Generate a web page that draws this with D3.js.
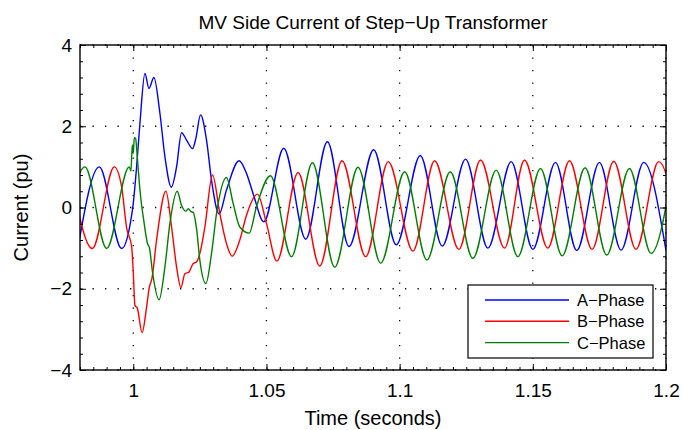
<!DOCTYPE html>
<html>
<head>
<meta charset="utf-8">
<script src="https://cdn.jsdelivr.net/npm/d3@7"></script>
<style>
  body { margin: 0; background: #fff; }
  text { font-family: "Liberation Sans", Arial, Helvetica, sans-serif; }
</style>
</head>
<body>
<div id="chart"></div>
<script>
// tick values and labels
var xTicks = [1, 1.05, 1.1, 1.15, 1.2];
var xTickLabels = ["1", "1.05", "1.1", "1.15", "1.2"];
var yTicks = [-4, -2, 0, 2, 4];
var yTickLabels = ["\u22124", "\u22122", "0", "2", "4"];
var phaseNames = ["A\u2212Phase", "B\u2212Phase", "C\u2212Phase"];

// [time (s), current (pu)]: peaks, troughs and kinks
var phaseA = [
  [0.9792, -1.0], [0.98725, 1.0], [0.9956, -1.01], [0.99875, -0.44], [1.0, 0.10],
  [1.00125, 1.0], [1.0025, 2.07], [1.00438, 3.30], [1.00588, 2.93], [1.00775, 3.20],
  [1.01, 2.32], [1.01188, 1.25], [1.0143, 0.50], [1.01625, 1.0], [1.01813, 1.84],
  [1.02, 1.66], [1.02225, 1.45], [1.0235, 1.70], [1.02525, 2.28], [1.0275, 1.66],
  [1.02938, 0.67], [1.03225, -0.16], [1.035, 0.43], [1.03975, 1.15], [1.0425, 0.84],
  [1.045, 0.34], [1.049, -0.35], [1.0565, 1.46], [1.06475, -0.78], [1.07288, 1.62],
  [1.081, -0.96], [1.09025, 1.42], [1.09875, -0.92], [1.10775, 1.28], [1.116, -0.95],
  [1.12475, 1.19], [1.13313, -1.0], [1.14188, 1.13], [1.15, -1.03], [1.1585, 1.11],
  [1.1665, -1.06], [1.175, 1.11], [1.18313, -1.05], [1.19163, 1.11], [1.2, -1.06]
];
var phaseB = [
  [0.9762, 1.0], [0.98463, -1.01], [0.99288, 1.0], [0.99563, 0.51], [0.9975, -0.5],
  [0.99938, -0.96], [1.0, -1.6], [1.00063, -2.41], [1.0015, -2.47], [1.0033, -3.08],
  [1.005, -2.45], [1.006, -1.97], [1.007, -1.75], [1.00875, -0.80], [1.01225, 0.40],
  [1.01438, -0.48], [1.01625, -1.46], [1.01788, -1.97], [1.01938, -1.63], [1.02088, -1.59],
  [1.0225, -1.38], [1.02375, -1.34], [1.025, -1.13], [1.02688, -0.48], [1.02975, 0.80],
  [1.0325, -0.15], [1.035, -0.89], [1.03713, -1.20], [1.04, -0.80], [1.0425, -0.19],
  [1.04663, 0.33], [1.05, -0.39], [1.0539, -1.32], [1.06188, 0.86], [1.07, -1.44],
  [1.07838, 1.15], [1.08725, -1.21], [1.09575, 1.13], [1.105, -1.07], [1.11313, 1.15],
  [1.12225, -1.03], [1.13038, 1.17], [1.13938, -1.0], [1.14688, 1.17], [1.15563, -1.0],
  [1.16375, 1.15], [1.17225, -1.03], [1.18038, 1.14], [1.18875, -1.03], [1.19725, 1.13],
  [1.2058, -1.03]
];
var phaseC = [
  [0.9735, -1.0], [0.98188, 1.0], [0.99, -1.01], [0.9985, 1.0], [0.99913, 0.90],
  [0.99963, 1.54], [1.0, 1.33], [1.00038, 1.72], [1.00088, 1.70], [1.0015, 1.25],
  [1.0025, 0.43], [1.004, -0.35], [1.0053, -0.88], [1.0061, -1.0], [1.0072, -1.58],
  [1.00968, -2.27], [1.01188, -1.46], [1.01375, -0.39], [1.0165, 0.40], [1.01813, 0.05],
  [1.01975, -0.09], [1.02063, -0.03], [1.02163, -0.10], [1.0225, -0.12], [1.02375, -0.52],
  [1.025, -1.30], [1.02725, -1.87], [1.02938, -1.13], [1.03125, -0.15], [1.035, 0.74],
  [1.0375, 0.10], [1.04, -0.48], [1.0435, -0.63], [1.04625, 0.02], [1.0515, 0.78],
  [1.0594, -1.21], [1.06725, 1.10], [1.07563, -1.47], [1.08438, 0.99], [1.09288, -1.37],
  [1.10188, 0.88], [1.11025, -1.29], [1.119, 0.88], [1.1275, -1.25], [1.13625, 0.92],
  [1.14438, -1.21], [1.15288, 0.96], [1.161, -1.19], [1.16963, 0.98], [1.17775, -1.17],
  [1.18625, 0.96], [1.19438, -1.13], [1.2025, 0.96]
];

var phases = [phaseA, phaseB, phaseC];
var colors = ["#0000ff", "#ff0000", "#008000"];

var width = 683, height = 430;
var pLeft = 80, pRight = 666, pTop = 45, pBottom = 370;

var svg = d3.select("#chart").append("svg").attr("width", width).attr("height", height);

var x = d3.scaleLinear().domain([0.98, 1.2]).range([pLeft, pRight]);
var y = d3.scaleLinear().domain([-4, 4]).range([pBottom, pTop]);

// dotted grid
svg.append("g").selectAll("line").data(xTicks).enter().append("line")
  .attr("x1", function(d) { return x(d); }).attr("x2", function(d) { return x(d); })
  .attr("y1", pTop).attr("y2", pBottom)
  .attr("stroke", "#000").attr("stroke-width", 1.3).attr("stroke-dasharray", "1.3,11.2");
svg.append("g").selectAll("line").data(yTicks).enter().append("line")
  .attr("x1", pLeft).attr("x2", pRight)
  .attr("y1", function(d) { return y(d); }).attr("y2", function(d) { return y(d); })
  .attr("stroke", "#000").attr("stroke-width", 1.3).attr("stroke-dasharray", "1.3,11.2");

// curves
svg.append("clipPath").attr("id", "plotclip").append("rect")
  .attr("x", pLeft).attr("y", pTop).attr("width", pRight - pLeft).attr("height", pBottom - pTop);

var line = d3.line()
  .x(function(d) { return x(d[0]); })
  .y(function(d) { return y(d[1]); })
  .curve(d3.curveMonotoneX);

svg.append("g").attr("clip-path", "url(#plotclip)")
  .selectAll("path").data(phases).enter().append("path")
  .attr("d", line)
  .attr("fill", "none")
  .attr("stroke", function(d, i) { return colors[i]; })
  .attr("stroke-width", 1.4);

// axes: ticks point inward on all four sides
var xMinor = d3.range(0.98, 1.2001, 0.005);
var yMinor = d3.range(-4, 4.001, 0.4);

function noDomain(g) { g.select(".domain").remove(); }

svg.append("g").attr("transform", "translate(0," + pBottom + ")")
  .call(d3.axisBottom(x).tickValues(xMinor).tickSize(-3).tickFormat("")).call(noDomain);
svg.append("g").attr("transform", "translate(0," + pTop + ")")
  .call(d3.axisTop(x).tickValues(xMinor).tickSize(-3).tickFormat("")).call(noDomain);
svg.append("g").attr("transform", "translate(" + pLeft + ",0)")
  .call(d3.axisLeft(y).tickValues(yMinor).tickSize(-3).tickFormat("")).call(noDomain);
svg.append("g").attr("transform", "translate(" + pRight + ",0)")
  .call(d3.axisRight(y).tickValues(yMinor).tickSize(-3).tickFormat("")).call(noDomain);

var xAxis = svg.append("g").attr("transform", "translate(0," + pBottom + ")")
  .call(d3.axisBottom(x).tickValues(xTicks).tickSize(-6).tickPadding(14)
    .tickFormat(function(d, i) { return xTickLabels[i]; }))
  .call(noDomain);
var yAxis = svg.append("g").attr("transform", "translate(" + pLeft + ",0)")
  .call(d3.axisLeft(y).tickValues(yTicks).tickSize(-6).tickPadding(8)
    .tickFormat(function(d, i) { return yTickLabels[i]; }))
  .call(noDomain);
svg.append("g").attr("transform", "translate(0," + pTop + ")")
  .call(d3.axisTop(x).tickValues(xTicks).tickSize(-6).tickFormat("")).call(noDomain);
svg.append("g").attr("transform", "translate(" + pRight + ",0)")
  .call(d3.axisRight(y).tickValues(yTicks).tickSize(-6).tickFormat("")).call(noDomain);

[xAxis, yAxis].forEach(function(a) {
  a.attr("font-size", 19).attr("font-family", null);
  a.selectAll("text").attr("fill", "#000");
});
svg.selectAll(".tick line").attr("stroke", "#000");

svg.append("rect")
  .attr("x", pLeft).attr("y", pTop).attr("width", pRight - pLeft).attr("height", pBottom - pTop)
  .attr("fill", "none").attr("stroke", "#000").attr("stroke-width", 1.4);

// titles
svg.append("text").attr("x", (pLeft + pRight) / 2).attr("y", 29)
  .attr("text-anchor", "middle").attr("font-size", 19)
  .text("MV Side Current of Step\u2212Up Transformer");
svg.append("text").attr("x", (pLeft + pRight) / 2).attr("y", 425)
  .attr("text-anchor", "middle").attr("font-size", 20)
  .text("Time (seconds)");
svg.append("text").attr("transform", "translate(28," + y(0) + ") rotate(-90)")
  .attr("text-anchor", "middle").attr("font-size", 20)
  .text("Current (pu)");

// legend
var legend = svg.append("g");
legend.append("rect").attr("x", 468).attr("y", 285).attr("width", 185).attr("height", 73)
  .attr("fill", "#fff").attr("stroke", "#000").attr("stroke-width", 1.2);
var rows = legend.selectAll("g.row").data(phaseNames).enter().append("g")
  .attr("class", "row")
  .attr("transform", function(d, i) { return "translate(0," + (300 + i * 21.3) + ")"; });
rows.append("line").attr("x1", 485).attr("x2", 569).attr("y1", 0).attr("y2", 0)
  .attr("stroke", function(d, i) { return colors[i]; }).attr("stroke-width", 1.4);
rows.append("text").attr("x", 577).attr("dy", "0.36em").attr("font-size", 16.5)
  .text(function(d) { return d; });
</script>
</body>
</html>
